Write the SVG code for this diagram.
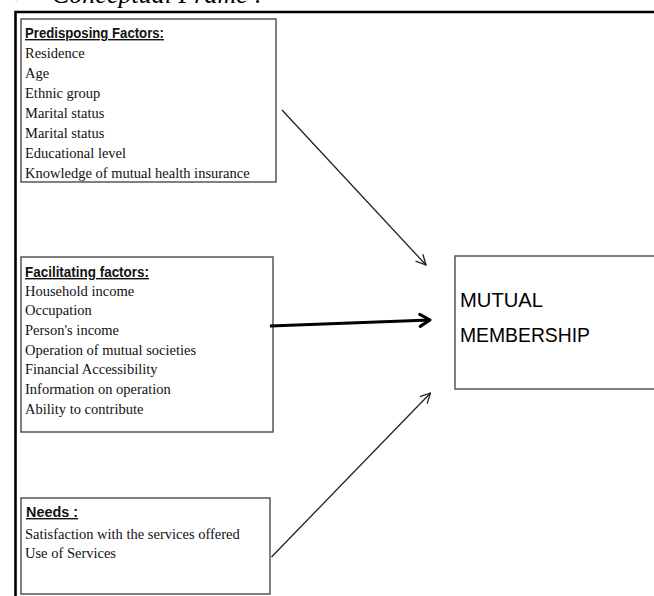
<svg xmlns="http://www.w3.org/2000/svg" width="654" height="596" viewBox="0 0 654 596">
<style>
.box{fill:#fff;stroke:#4a4a4a;stroke-width:1.4}
.frame{fill:none;stroke:#000}
.hd{font-family:"Liberation Sans",Arial,sans-serif;font-size:14px;font-weight:bold;fill:#111;text-decoration:underline}
.it{font-family:"Liberation Serif","Times New Roman",serif;font-size:14.5px;fill:#111}
.big{font-family:"Liberation Sans",Arial,sans-serif;font-size:21px;fill:#000}
.title{font-family:"Liberation Serif","Times New Roman",serif;font-size:26px;font-style:italic;fill:#000}
.conn{fill:none;stroke:#222;stroke-width:1.3}
.thick{fill:none;stroke:#000;stroke-width:3}
</style>
<defs>
<marker id="ah" viewBox="0 0 12 12" refX="11" refY="6" markerWidth="12" markerHeight="12" markerUnits="userSpaceOnUse" orient="auto">
<path d="M1,1 L11,6 L1,11" fill="none" stroke="#222" stroke-width="1.3"/>
</marker>
<marker id="ahb" viewBox="0 0 14 16" refX="12" refY="8" markerWidth="14" markerHeight="16" markerUnits="userSpaceOnUse" orient="auto">
<path d="M2,2 L12,8 L2,14" fill="none" stroke="#000" stroke-width="3" stroke-linecap="round" stroke-linejoin="round"/>
</marker>
</defs>
<rect width="654" height="596" fill="#fff"/>
<text class="title" x="12" y="3">➢</text>
<text class="title" x="52" y="3" textLength="211" lengthAdjust="spacingAndGlyphs">Conceptual Frame :</text>
<path class="frame" d="M15.5,596 V12 H654" stroke-width="2.6"/>

<g id="predisposing">
<rect class="box" x="21" y="19" width="255" height="163"/>
<text class="hd" x="25" y="38" textLength="139" lengthAdjust="spacingAndGlyphs">Predisposing Factors:</text>
<text class="it" x="25" y="58">Residence</text>
<text class="it" x="25" y="78">Age</text>
<text class="it" x="25" y="98">Ethnic group</text>
<text class="it" x="25" y="118">Marital status</text>
<text class="it" x="25" y="138">Marital status</text>
<text class="it" x="25" y="158">Educational level</text>
<text class="it" x="25" y="178">Knowledge of mutual health insurance</text>
</g>

<g id="facilitating">
<rect class="box" x="21" y="257" width="252" height="175"/>
<text class="hd" x="25" y="277" textLength="124" lengthAdjust="spacingAndGlyphs">Facilitating factors:</text>
<text class="it" x="25" y="295.5">Household income</text>
<text class="it" x="25" y="315.2">Occupation</text>
<text class="it" x="25" y="334.9">Person's income</text>
<text class="it" x="25" y="354.6">Operation of mutual societies</text>
<text class="it" x="25" y="374.3">Financial Accessibility</text>
<text class="it" x="25" y="394">Information on operation</text>
<text class="it" x="25" y="414">Ability to contribute</text>
</g>

<g id="needs">
<rect class="box" x="21" y="498" width="249" height="96"/>
<text class="hd" x="26" y="517" textLength="52" lengthAdjust="spacingAndGlyphs">Needs :</text>
<text class="it" x="25" y="539">Satisfaction with the services offered</text>
<text class="it" x="25" y="558">Use of Services</text>
</g>

<g id="mutual">
<rect class="box" x="455" y="256" width="210" height="133"/>
<text class="big" x="460" y="307" textLength="83" lengthAdjust="spacingAndGlyphs">MUTUAL</text>
<text class="big" x="460" y="342" textLength="130" lengthAdjust="spacingAndGlyphs">MEMBERSHIP</text>
</g>

<g id="connectors">
<line class="conn" x1="282" y1="110" x2="426" y2="265" marker-end="url(#ah)"/>
<line class="thick" x1="270" y1="326" x2="430" y2="320" marker-end="url(#ahb)"/>
<line class="conn" x1="271.5" y1="557" x2="430.5" y2="393" marker-end="url(#ah)"/>
</g>
</svg>
